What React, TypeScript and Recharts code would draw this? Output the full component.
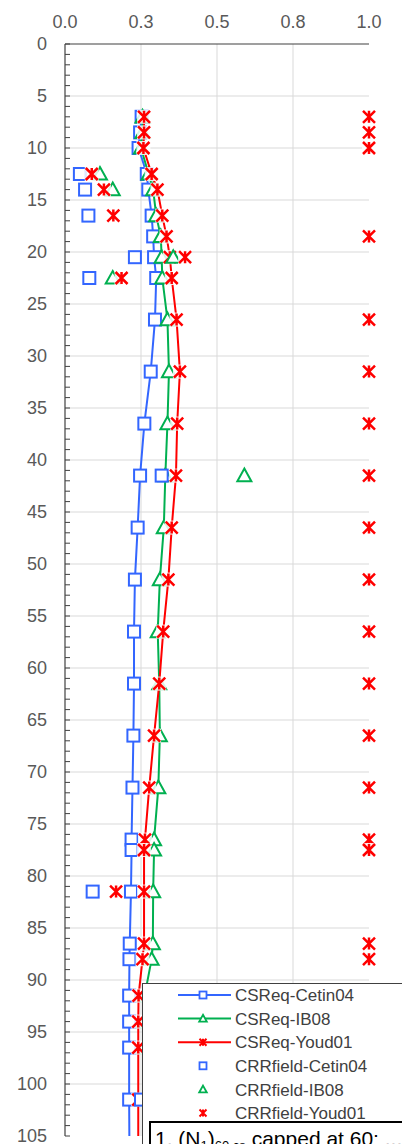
import React from 'react';
import { ComposedChart, Scatter, XAxis, YAxis, CartesianGrid } from 'recharts';

// ---------- data ----------
const depths = [7, 8.5, 10, 12.5, 14, 16.5, 18.5, 20.5, 22.5, 26.5, 31.5, 36.5, 41.5, 46.5, 51.5, 56.5, 61.5, 66.5, 71.5, 76.5, 77.5, 81.5, 86.5, 88, 91.5, 94, 96.5, 101.5, 106.5];
const csrCetin04 = [0.252, 0.247, 0.242, 0.269, 0.274, 0.285, 0.29, 0.293, 0.3, 0.296, 0.282, 0.261, 0.247, 0.239, 0.23, 0.227, 0.227, 0.225, 0.222, 0.219, 0.219, 0.217, 0.213, 0.212, 0.211, 0.211, 0.211, 0.211, 0.212];
const csrIB08 = [0.255, 0.255, 0.25, 0.275, 0.29, 0.3, 0.315, 0.318, 0.32, 0.337, 0.342, 0.337, 0.33, 0.325, 0.312, 0.305, 0.31, 0.312, 0.307, 0.293, 0.293, 0.29, 0.289, 0.285, 0.262, 0.26, 0.26, 0.258, 0.258];
const csrYoud01 = [0.26, 0.26, 0.258, 0.285, 0.304, 0.32, 0.334, 0.345, 0.351, 0.367, 0.378, 0.369, 0.365, 0.351, 0.34, 0.323, 0.31, 0.293, 0.277, 0.263, 0.26, 0.26, 0.26, 0.255, 0.242, 0.241, 0.241, 0.241, 0.241];

const crrCetin04Depths = [12.5, 14, 16.5, 20.5, 22.5, 41.5, 81.5, 101.5];
const crrCetin04 = [0.049, 0.066, 0.077, 0.23, 0.08, 0.318, 0.091, 0.25];
const crrIB08Depths = [12.5, 14, 20.5, 22.5, 41.5];
const crrIB08 = [0.115, 0.157, 0.356, 0.157, 0.59];
const crrYoud01Depths = [7, 8.5, 10, 12.5, 14, 16.5, 18.5, 20.5, 22.5, 26.5, 31.5, 36.5, 41.5, 46.5, 51.5, 56.5, 61.5, 66.5, 71.5, 76.5, 77.5, 81.5, 86.5, 88];
const crrYoud01 = [1, 1, 1, 0.088, 0.128, 0.159, 1, 0.395, 0.186, 1, 1, 1, 1, 1, 1, 1, 1, 1, 1, 1, 1, 0.168, 1, 1];

const xTicks = [0, 0.25, 0.5, 0.75, 1];
const yMajorTicks = [0, 5, 10, 15, 20, 25, 30, 35, 40, 45, 50, 55, 60, 65, 70, 75, 80, 85, 90, 95, 100, 105];
const yMinorTicks = Array.from({ length: 106 }, (_, i) => i);

const seriesNames = ['CSReq-Cetin04', 'CSReq-IB08', 'CSReq-Youd01', 'CRRfield-Cetin04', 'CRRfield-IB08', 'CRRfield-Youd01'];

// ---------- styles ----------
const BLUE = '#3366FF';
const GREEN = '#00B050';
const RED = '#FF0000';
const AXIS = '#404040';
const TEXT = '#595959';
const FONT = '"Liberation Sans", Arial, sans-serif';

const toPts = (ys: number[], xs: number[]) => ys.map((y, i) => ({ x: xs[i], y }));

const Sq = ({ cx, cy, s = 6, sw = 2 }: any) => (
  <rect x={cx - s} y={cy - s} width={2 * s} height={2 * s} fill="#fff" stroke={BLUE} strokeWidth={sw} />
);
const Tri = ({ cx, cy, s = 7, sw = 2 }: any) => (
  <polygon points={`${cx},${cy - s} ${cx + s},${cy + s * 0.8} ${cx - s},${cy + s * 0.8}`} fill="#fff" stroke={GREEN} strokeWidth={sw} strokeLinejoin="miter" />
);
const Star = ({ cx, cy, s = 6, sw = 2.5, bg = true }: any) => (
  <g>
    {bg && <rect x={cx - s - 1} y={cy - s - 1} width={2 * s + 2} height={2 * s + 2} fill="#fff" fillOpacity={0.85} />}
    <path d={`M${cx - s},${cy - s}L${cx + s},${cy + s}M${cx - s},${cy + s}L${cx + s},${cy - s}M${cx},${cy - s}L${cx},${cy + s}`} stroke={RED} strokeWidth={sw} fill="none" />
  </g>
);

const XTick = (props: any) => {
  const { x, y, payload } = props;
  return (
    <text x={x} y={y} textAnchor="middle" fontSize={18} fill={TEXT} fontFamily={FONT}>
      {Number(payload.value).toFixed(1)}
    </text>
  );
};
const YTick = (props: any) => {
  const { x, y, payload } = props;
  if (!yMajorTicks.includes(payload.value)) return <g />;
  return (
    <text x={x} y={y} dy="0.36em" textAnchor="end" fontSize={18} fill={TEXT} fontFamily={FONT}>
      {payload.value}
    </text>
  );
};

const Legend = () => {
  const rows = [
    { line: BLUE, m: (cx: number, cy: number) => <Sq cx={cx} cy={cy} s={3.5} sw={1.8} /> },
    { line: GREEN, m: (cx: number, cy: number) => <Tri cx={cx} cy={cy} s={3.8} sw={1.8} /> },
    { line: RED, m: (cx: number, cy: number) => <Star cx={cx} cy={cy} s={3.5} sw={2} bg={false} /> },
    { line: null, m: (cx: number, cy: number) => <Sq cx={cx} cy={cy} s={3.5} sw={1.8} /> },
    { line: null, m: (cx: number, cy: number) => <Tri cx={cx} cy={cy} s={3.8} sw={1.8} /> },
    { line: null, m: (cx: number, cy: number) => <Star cx={cx} cy={cy} s={3.5} sw={2} bg={false} /> },
  ];
  return (
    <div style={{ position: 'absolute', left: 142, top: 983, width: 300, height: 200, background: '#fff', border: `1px solid ${AXIS}`, boxSizing: 'border-box' }}>
      <svg width={300} height={200} style={{ display: 'block' }}>
        {rows.map((r, i) => {
          const cy = 11 + i * 23.6;
          return (
            <g key={i}>
              {r.line && <line x1={35} x2={88} y1={cy} y2={cy} stroke={r.line} strokeWidth={2} />}
              {r.m(60, cy)}
              <text x={92} y={cy} dy="0.36em" fontSize={17} fill={AXIS} fontFamily={FONT}>{seriesNames[i]}</text>
            </g>
          );
        })}
      </svg>
    </div>
  );
};

const Footnote = () => (
  <div style={{ position: 'absolute', left: 149, top: 1121, width: 300, height: 60, background: '#fff', border: '2px solid #000', boxSizing: 'border-box' }}>
    <svg width={300} height={60} style={{ display: 'block' }}>
      <text x={4} y={23} fontSize={21} fill="#000" fontFamily={FONT}>
        1. (N<tspan fontSize={13} dy={4}>1</tspan><tspan dy={-4}>)</tspan><tspan fontSize={13} dy={4}>60,cs</tspan><tspan dy={-4}> capped at 60; ...</tspan>
      </text>
    </svg>
  </div>
);

export default function App() {
  const d1 = toPts(depths, csrCetin04);
  const d2 = toPts(depths, csrIB08);
  const d3 = toPts(depths, csrYoud01);
  const c1 = toPts(crrCetin04Depths, crrCetin04);
  const c2 = toPts(crrIB08Depths, crrIB08);
  const c3 = toPts(crrYoud01Depths, crrYoud01);
  return (
    <div style={{ position: 'relative', width: 402, height: 1144, overflow: 'hidden', fontFamily: FONT }}>
      <style>{`html,body{margin:0;padding:0;overflow:hidden;}`}</style>
      <ComposedChart width={402} height={1144} margin={{ top: 0, right: 33, bottom: 8, left: 0 }}>
        <CartesianGrid stroke="#d9d9d9" strokeWidth={1} horizontalValues={yMajorTicks.slice(1, -1)} verticalValues={xTicks.slice(1, -1)} />
        <XAxis xAxisId={0} type="number" dataKey="x" orientation="top" domain={[0, 1]} ticks={xTicks} interval={0} height={44} tickSize={0} tickMargin={16} tick={XTick} tickLine={false} axisLine={{ stroke: AXIS, strokeWidth: 1.2 }} />
        <XAxis xAxisId="b" type="number" orientation="bottom" domain={[0, 1]} height={0} tick={false} tickLine={false} axisLine={{ stroke: AXIS, strokeWidth: 1.2 }} />
        <YAxis yAxisId={0} type="number" dataKey="y" domain={[0, 105]} reversed ticks={yMinorTicks} interval={0} width={65} tickSize={-5} tickMargin={23} tick={YTick} tickLine={{ stroke: AXIS }} axisLine={{ stroke: AXIS, strokeWidth: 1.2 }} />
        <YAxis yAxisId="clip" hide type="number" dataKey="y" domain={[0, 105]} reversed allowDataOverflow />
        <YAxis yAxisId="r" orientation="right" type="number" domain={[0, 105]} reversed width={0} tick={false} tickLine={false} axisLine={{ stroke: '#595959', strokeWidth: 1.2 }} />
        <Scatter name={seriesNames[0]} yAxisId="clip" data={d1} dataKey="y" isAnimationActive={false} line={{ stroke: BLUE, strokeWidth: 2 }} fill={BLUE} shape={(p: any) => <Sq cx={p.cx} cy={p.cy} />} />
        <Scatter name={seriesNames[1]} yAxisId="clip" data={d2} dataKey="y" isAnimationActive={false} line={{ stroke: GREEN, strokeWidth: 2 }} fill={GREEN} shape={(p: any) => <Tri cx={p.cx} cy={p.cy} />} />
        <Scatter name={seriesNames[2]} yAxisId="clip" data={d3} dataKey="y" isAnimationActive={false} line={{ stroke: RED, strokeWidth: 2 }} fill={RED} shape={(p: any) => <Star cx={p.cx} cy={p.cy} />} />
        <Scatter name={seriesNames[3]} data={c1} dataKey="y" isAnimationActive={false} fill={BLUE} shape={(p: any) => <Sq cx={p.cx} cy={p.cy} />} />
        <Scatter name={seriesNames[4]} data={c2} dataKey="y" isAnimationActive={false} fill={GREEN} shape={(p: any) => <Tri cx={p.cx} cy={p.cy} />} />
        <Scatter name={seriesNames[5]} data={c3} dataKey="y" isAnimationActive={false} fill={RED} shape={(p: any) => <Star cx={p.cx} cy={p.cy} />} />
      </ComposedChart>
      <Legend />
      <Footnote />
    </div>
  );
}
